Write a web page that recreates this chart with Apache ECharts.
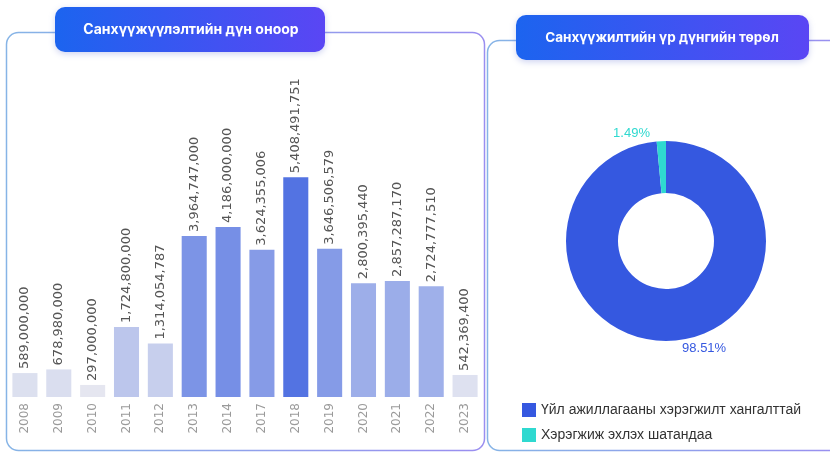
<!DOCTYPE html>
<html>
<head>
<meta charset="utf-8">
<script src="https://cdn.jsdelivr.net/npm/echarts@6/dist/echarts.min.js"></script>
<style>
  html, body { margin: 0; padding: 0; background: #fff; }
  #chart { width: 830px; height: 452px; }
</style>
</head>
<body>
<div id="chart"></div>
<script>
// санхүүжилтийн дүн оноор
const years = ["2008", "2009", "2010", "2011", "2012", "2013", "2014",
  "2017", "2018", "2019", "2020", "2021", "2022", "2023"];
const amounts = [589000000, 678980000, 297000000, 1724800000, 1314054787,
  3964747000, 4186000000, 3624355006, 5408491751, 3646506579,
  2800395440, 2857287170, 2724777510, 542369400];

// үр дүнгийн төрөл
const resultNames = ["Үйл ажиллагааны хэрэгжилт хангалттай", "Хэрэгжиж эхлэх шатандаа"];
const resultShares = [98.51, 1.49];

const chart = echarts.init(document.getElementById("chart"));

const borderGrad = new echarts.graphic.LinearGradient(0, 0, 1, 0, [
  { offset: 0, color: "#86b4e6" },
  { offset: 1, color: "#9a8ef0" },
]);
const titleGrad = new echarts.graphic.LinearGradient(0, 0, 1, 0, [
  { offset: 0, color: "#1c64ef" },
  { offset: 1, color: "#5a46f4" },
]);

function fmt(v) {
  return String(v).replace(/\B(?=(\d{3})+(?!\d))/g, ",");
}

chart.setOption({
  animation: false,
  graphic: [
    // panels
    {
      type: "rect", z: -10,
      shape: { x: 6.5, y: 32.5, width: 478, height: 418, r: 12 },
      style: { fill: "#fff", stroke: borderGrad, lineWidth: 1.5 },
    },
    {
      type: "rect", z: -10,
      shape: { x: 487.5, y: 40.5, width: 360, height: 410, r: 12 },
      style: { fill: "#fff", stroke: borderGrad, lineWidth: 1.5 },
    },
    // titles
    {
      type: "rect", z: 10,
      shape: { x: 55, y: 7, width: 270, height: 45, r: 10 },
      style: { fill: titleGrad, shadowBlur: 6, shadowColor: "rgba(60,80,200,0.25)", shadowOffsetY: 2 },
    },
    {
      type: "text", z: 11, x: 191, y: 30,
      style: {
        text: "Санхүүжүүлэлтийн дүн оноор", fill: "#fff",
        font: "bold 14px Inter", align: "center", verticalAlign: "middle",
      },
    },
    {
      type: "rect", z: 10,
      shape: { x: 516, y: 15, width: 293, height: 45, r: 10 },
      style: { fill: titleGrad, shadowBlur: 6, shadowColor: "rgba(60,80,200,0.25)", shadowOffsetY: 2 },
    },
    {
      type: "text", z: 11, x: 662, y: 38,
      style: {
        text: "Санхүүжилтийн үр дүнгийн төрөл", fill: "#fff",
        font: "bold 13.5px Inter", align: "center", verticalAlign: "middle",
      },
    },
  ],
  grid: { left: 8, right: 348, top: 72, bottom: 55 },
  xAxis: {
    type: "category",
    data: years,
    axisLine: { show: false },
    axisTick: { show: false },
    axisLabel: {
      rotate: 90, color: "#9a9a9a", fontSize: 12,
      fontFamily: "DejaVu Sans", margin: 6, interval: 0,
    },
  },
  yAxis: {
    type: "value", min: 0, max: 8000000000, show: false,
    splitLine: { show: false },
  },
  visualMap: {
    show: false, seriesIndex: 0, dimension: 1,
    min: 0, max: 5500000000,
    inRange: { color: ["#ededf1", "#5071e2"] },
  },
  legend: {
    orient: "vertical", left: 517, top: 398,
    itemWidth: 14, itemHeight: 14, itemGap: 11,
    icon: "rect",
    data: resultNames,
    textStyle: { color: "#333", fontSize: 14, fontFamily: "Liberation Sans" },
  },
  series: [
    {
      type: "bar",
      data: amounts,
      barWidth: "74%",
      label: {
        show: true, position: "top", rotate: 90,
        align: "left", verticalAlign: "middle", distance: 4,
        color: "#555", fontSize: 13, fontFamily: "DejaVu Sans",
        formatter: (p) => fmt(p.value),
      },
    },
    {
      type: "pie",
      center: [666, 241],
      radius: [48, 100],
      color: ["#3558e0", "#2fd9d0"],
      data: resultNames.map((n, i) => ({ name: n, value: resultShares[i] })),
      label: {
        show: true, position: "outside", formatter: "{d}%",
        fontSize: 13, fontFamily: "Liberation Sans",
        color: "inherit",
      },
      labelLine: { show: false, length: 8, length2: 6 },
    },
  ],
});
</script>
</body>
</html>
